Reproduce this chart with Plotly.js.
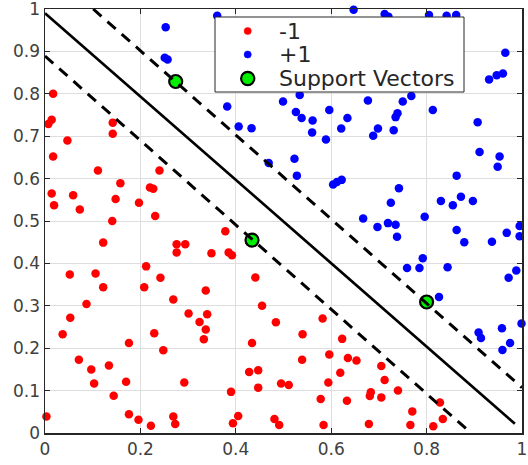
<!DOCTYPE html>
<html>
<head>
<meta charset="utf-8">
<script src="https://cdn.plot.ly/plotly-3.0.1.min.js"></script>
<style>html,body{margin:0;padding:0;background:#fff;}#chart{width:528px;height:465px;}</style>
</head>
<body>
<div id="chart"></div>
<script>
// Class -1 points
var neg_x = [0.017,0.007,0.014,0.047,0.017,0.111,0.142,0.142,0.158,0.148,0.014,0.019,0.059,0.073,0.197,0.220,0.227,0.240,0.141,0.231,0.378,
  0.122,0.003,0.052,0.106,0.122,0.087,0.053,0.037,0.071,0.097,0.103,0.134,0.144,0.176,0.170,0.176,0.196,0.222,0.212,0.208,0.242,0.229,0.248,
  0.269,0.276,0.276,0.294,0.301,0.292,0.269,0.273,0.324,0.337,0.340,0.337,0.333,0.349,0.385,0.392,0.390,0.405,0.394,0.428,0.441,0.455,0.434,
  0.428,0.447,0.447,0.484,0.540,0.582,0.623,0.539,0.596,0.635,0.653,0.619,0.705,0.712,0.594,0.495,0.511,0.683,0.681,0.705,0.740,0.578,0.633,
  0.828,0.770,0.834,0.481,0.491,0.584,0.679,0.766,0.814];
var neg_y = [0.800,0.729,0.739,0.690,0.652,0.619,0.732,0.706,0.589,0.552,0.565,0.537,0.561,0.527,0.543,0.579,0.576,0.619,0.500,0.512,0.476,
  0.449,0.039,0.374,0.376,0.344,0.304,0.272,0.233,0.173,0.150,0.117,0.159,0.088,0.212,0.121,0.044,0.031,0.017,0.393,0.344,0.366,0.235,0.195,
  0.315,0.445,0.426,0.445,0.282,0.119,0.039,0.021,0.262,0.336,0.280,0.244,0.221,0.424,0.426,0.419,0.097,0.040,0.023,0.451,0.367,0.300,0.212,
  0.144,0.148,0.107,0.261,0.233,0.270,0.222,0.173,0.185,0.177,0.171,0.142,0.158,0.125,0.119,0.117,0.113,0.096,0.087,0.084,0.100,0.080,0.076,
  0.072,0.051,0.033,0.033,0.019,0.019,0.021,0.019,0.016];

// Class +1 points
var pos_x = [0.253,0.361,0.251,0.257,0.382,0.406,0.433,0.647,0.712,0.720,0.805,0.842,0.862,0.965,0.931,0.947,0.960,0.499,0.534,0.768,
  0.677,0.750,0.526,0.538,0.561,0.596,0.634,0.560,0.621,0.589,0.698,0.688,0.731,0.739,0.735,0.813,0.907,0.911,0.953,0.949,0.523,0.469,
  0.528,0.604,0.612,0.622,0.863,0.742,0.725,0.830,0.855,0.872,0.897,0.667,0.697,0.719,0.735,0.796,0.863,0.968,0.995,0.995,0.738,0.879,
  0.937,0.792,0.759,0.785,0.844,0.988,0.972,0.826,0.800,0.999,0.958,0.909,0.914,0.975,0.959];
var pos_y = [0.957,0.984,0.885,0.881,0.770,0.723,0.719,0.998,0.988,0.982,0.986,0.984,0.986,0.897,0.834,0.844,0.848,0.782,0.797,0.795,
  0.784,0.782,0.757,0.743,0.737,0.762,0.743,0.709,0.718,0.692,0.718,0.701,0.714,0.754,0.745,0.762,0.733,0.663,0.652,0.628,0.647,0.637,
  0.607,0.586,0.592,0.597,0.607,0.577,0.543,0.547,0.537,0.557,0.547,0.506,0.486,0.495,0.491,0.510,0.479,0.472,0.488,0.464,0.463,0.450,
  0.451,0.412,0.389,0.389,0.391,0.383,0.366,0.321,0.309,0.258,0.247,0.237,0.224,0.212,0.196];

// Support vectors
var sv_x = [0.274,0.434,0.800];
var sv_y = [0.829,0.455,0.309];

// Decision boundary and margins
var boundary_x = [0.000,0.985];
var boundary_y = [0.990,0.022];
var margin_up_x = [0.101,1.000];
var margin_up_y = [1.000,0.107];
var margin_lo_x = [0.000,0.893];
var margin_lo_y = [0.889,0.000];

// Tick labels
var x_tickvals = [0,0.2,0.4,0.6,0.8,1];
var x_ticktext = ['0','0.2','0.4','0.6','0.8','1'];
var y_tickvals = [0,0.1,0.2,0.3,0.4,0.5,0.6,0.7,0.8,0.9,1];
var y_ticktext = ['0','0.1','0.2','0.3','0.4','0.5','0.6','0.7','0.8','0.9','1'];

var series_names = ['-1','+1','Support Vectors'];
var series_colors = ['#ff0000','#0000ff','#00ee00'];

var traces = [
  {x: neg_x, y: neg_y, name: series_names[0], type: 'scatter', mode: 'markers', cliponaxis: false,
   marker: {color: series_colors[0], size: 8.5}},
  {x: pos_x, y: pos_y, name: series_names[1], type: 'scatter', mode: 'markers', cliponaxis: false,
   marker: {color: series_colors[1], size: 8.5}},
  {x: sv_x, y: sv_y, name: series_names[2], type: 'scatter', mode: 'markers', cliponaxis: false,
   marker: {color: series_colors[2], size: 13, line: {color: '#000000', width: 2.2}}},
  {x: boundary_x, y: boundary_y, type: 'scatter', mode: 'lines', cliponaxis: false,
   line: {color: '#000000', width: 2.7}},
  {x: margin_up_x, y: margin_up_y, type: 'scatter', mode: 'lines', cliponaxis: false,
   line: {color: '#000000', width: 3, dash: '11px,8px'}},
  {x: margin_lo_x, y: margin_lo_y, type: 'scatter', mode: 'lines', cliponaxis: false,
   line: {color: '#000000', width: 3, dash: '11px,8px'}}
];

// Plot-area geometry (pixels) used for placing the legend box
var M = {l: 45, r: 6, t: 9, b: 32};
var W = 528, H = 465;
var PW = W - M.l - M.r, PH = H - M.t - M.b;
function px(v) { return (v - M.l) / PW; }
function py(v) { return (H - M.b - v) / PH; }

var shapes = [
  {type: 'rect', xref: 'paper', yref: 'paper', x0: px(215), x1: px(464), y0: py(92), y1: py(17),
   fillcolor: '#ffffff', line: {color: '#262626', width: 1}, layer: 'above'}
];
var annotations = [];
var rowY = [31, 54.5, 78.5];
var symR = [3.6, 3.6, 6.6];
for (var i = 0; i < 3; i++) {
  shapes.push({type: 'circle', xref: 'paper', yref: 'paper', layer: 'above',
    x0: px(247.7 - symR[i]), x1: px(247.7 + symR[i]), y0: py(rowY[i] + symR[i]), y1: py(rowY[i] - symR[i]),
    fillcolor: series_colors[i], line: {color: i === 2 ? '#000000' : series_colors[i], width: i === 2 ? 2.2 : 0.5}});
  annotations.push({xref: 'paper', yref: 'paper', x: px(277), y: py(rowY[i]), xanchor: 'left', yanchor: 'middle',
    text: series_names[i], showarrow: false, font: {family: 'DejaVu Sans', size: 22, color: '#262626'}});
}

var axisCommon = {
  range: [0, 1], showgrid: true, gridcolor: '#dedede', gridwidth: 1, zeroline: false,
  showline: true, linecolor: '#262626', linewidth: 1.5, mirror: 'ticks',
  ticks: 'inside', ticklen: 5, tickwidth: 1, tickcolor: '#262626', tickmode: 'array',
  ticklabeloverflow: 'allow',
  tickfont: {family: 'DejaVu Sans', size: 17, color: '#404040'}, fixedrange: true
};

var layout = {
  width: W, height: H,
  margin: M,
  paper_bgcolor: '#ffffff', plot_bgcolor: '#ffffff',
  xaxis: Object.assign({}, axisCommon, {tickvals: x_tickvals, ticktext: x_ticktext}),
  yaxis: Object.assign({}, axisCommon, {tickvals: y_tickvals, ticktext: y_ticktext, ticklabelshift: -1.5}),
  showlegend: false,
  shapes: shapes,
  annotations: annotations
};

Plotly.newPlot('chart', traces, layout, {staticPlot: true, displayModeBar: false});
</script>
</body>
</html>
